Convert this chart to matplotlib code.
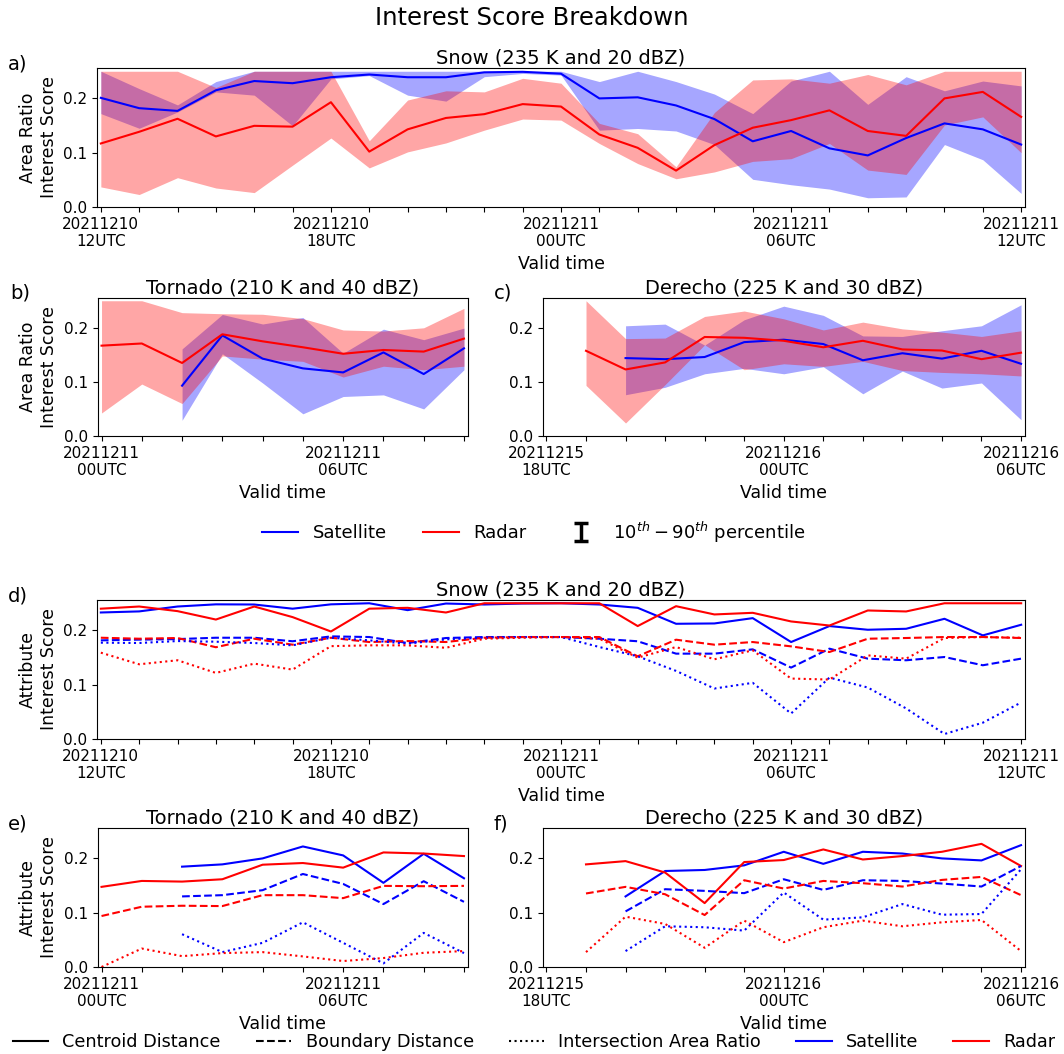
from datetime import timedelta

import numpy as np
import pandas as pd
import matplotlib
matplotlib.use("Agg")
import matplotlib.pyplot as plt
from matplotlib.lines import Line2D

# hourly valid times for each case
times_snow = pd.date_range("2021-12-10 12:00", periods=25, freq="h").to_pydatetime()
times_tornado = pd.date_range("2021-12-11 00:00", periods=10, freq="h").to_pydatetime()
times_derecho = pd.date_range("2021-12-15 18:00", periods=13, freq="h").to_pydatetime()

# first hour with objects (index into the case's times)
sat_start_tornado, rad_start_tornado = 2, 0
sat_start_derecho, rad_start_derecho = 2, 1

# area ratio interest: median and 10th/90th percentiles
sat_snow = [0.201, 0.182, 0.177, 0.215, 0.232, 0.228, 0.239, 0.244, 0.239, 0.239, 0.248, 0.249, 0.2455,
            0.200, 0.202, 0.187, 0.162, 0.121, 0.140, 0.108, 0.095, 0.127, 0.154, 0.143, 0.115]
sat_snow_lo = [0.172, 0.145, 0.175, 0.212, 0.206, 0.1495, 0.236, 0.242, 0.206, 0.195, 0.240, 0.246, 0.243,
               0.1415, 0.1446, 0.140, 0.115, 0.051, 0.041, 0.033, 0.017, 0.0185, 0.115, 0.087, 0.025]
sat_snow_hi = [0.25, 0.218, 0.188, 0.231, 0.25, 0.25, 0.25, 0.25, 0.25, 0.25, 0.25, 0.25, 0.25,
               0.231, 0.25, 0.231, 0.208, 0.172, 0.232, 0.25, 0.189, 0.24, 0.214, 0.232, 0.223]
rad_snow = [0.117, 0.1385, 0.1625, 0.130, 0.1495, 0.148, 0.193, 0.102, 0.143, 0.164, 0.171, 0.1895, 0.185,
            0.1335, 0.109, 0.067, 0.114, 0.146, 0.160, 0.178, 0.140, 0.131, 0.200, 0.212, 0.166]
rad_snow_lo = [0.037, 0.023, 0.054, 0.035, 0.0265, 0.077, 0.127, 0.072, 0.1015, 0.118, 0.1415, 0.162, 0.160,
               0.117, 0.080, 0.052, 0.0646, 0.084, 0.089, 0.117, 0.068, 0.060, 0.151, 0.166, 0.100]
rad_snow_hi = [0.25, 0.25, 0.25, 0.22, 0.25, 0.25, 0.25, 0.122, 0.197, 0.214, 0.212, 0.237, 0.228,
               0.154, 0.135, 0.074, 0.174, 0.234, 0.236, 0.228, 0.244, 0.225, 0.25, 0.25, 0.25]

sat_tornado = [0.093, 0.186, 0.143, 0.125, 0.1175, 0.1545, 0.1145, 0.162]
sat_tornado_lo = [0.029, 0.152, 0.098, 0.041, 0.073, 0.076, 0.050, 0.1225]
sat_tornado_hi = [0.161, 0.2246, 0.207, 0.219, 0.153, 0.1975, 0.178, 0.1994]
rad_tornado = [0.167, 0.171, 0.135, 0.188, 0.175, 0.164, 0.152, 0.159, 0.156, 0.180]
rad_tornado_lo = [0.0425, 0.096, 0.060, 0.148, 0.142, 0.138, 0.109, 0.129, 0.1225, 0.129]
rad_tornado_hi = [0.25, 0.25, 0.228, 0.226, 0.225, 0.217, 0.196, 0.194, 0.200, 0.236]

sat_derecho = [0.144, 0.142, 0.146, 0.1735, 0.178, 0.170, 0.140, 0.153, 0.143, 0.1575, 0.1335]
sat_derecho_lo = [0.0763, 0.090, 0.115, 0.125, 0.115, 0.128, 0.078, 0.120, 0.0886, 0.098, 0.030]
sat_derecho_hi = [0.2037, 0.2068, 0.168, 0.2148, 0.240, 0.223, 0.185, 0.184, 0.1945, 0.2037, 0.2425]
rad_derecho = [0.1575, 0.123, 0.136, 0.183, 0.1815, 0.176, 0.164, 0.176, 0.160, 0.158, 0.142, 0.154]
rad_derecho_lo = [0.0935, 0.024, 0.095, 0.1686, 0.1225, 0.1335, 0.1286, 0.138, 0.121, 0.1175, 0.115, 0.111]
rad_derecho_hi = [0.25, 0.18, 0.181, 0.221, 0.231, 0.2166, 0.196, 0.2105, 0.198, 0.192, 0.184, 0.1945]

# attribute interest: centroid distance, boundary distance, intersection area ratio
sat_snow_cen = [0.233, 0.235, 0.244, 0.248, 0.2477, 0.240, 0.248, 0.25, 0.2373, 0.2495, 0.2477, 0.2495, 0.25,
                0.2477, 0.2416, 0.2122, 0.2128, 0.2226, 0.1786, 0.208, 0.2012, 0.203, 0.2214, 0.1908, 0.2104]
sat_snow_bnd = [0.1817, 0.183, 0.184, 0.1865, 0.1865, 0.180, 0.189, 0.1878, 0.1768, 0.186, 0.1878, 0.1878, 0.1878,
                0.1847, 0.180, 0.1572, 0.1572, 0.1651, 0.1315, 0.1664, 0.148, 0.145, 0.151, 0.1358, 0.148]
sat_snow_int = [0.1774, 0.1768, 0.1804, 0.1792, 0.1768, 0.1725, 0.1865, 0.1817, 0.1755, 0.1835, 0.1865, 0.1878, 0.1878,
                0.1694, 0.1523, 0.1254, 0.093, 0.1034, 0.047, 0.1131, 0.0948, 0.0563, 0.0092, 0.030, 0.0673]
rad_snow_cen = [0.240, 0.244, 0.2355, 0.220, 0.244, 0.2245, 0.198, 0.240, 0.2416, 0.233, 0.25, 0.25, 0.25,
                0.25, 0.208, 0.2446, 0.2294, 0.2324, 0.2165, 0.209, 0.2367, 0.2349, 0.25, 0.25, 0.25]
rad_snow_bnd = [0.1865, 0.1847, 0.186, 0.169, 0.1847, 0.1737, 0.1865, 0.1786, 0.1804, 0.1786, 0.1865, 0.1878, 0.1878,
                0.1878, 0.1523, 0.1829, 0.1737, 0.1786, 0.1706, 0.1602, 0.1847, 0.186, 0.1878, 0.1878, 0.186]
rad_snow_int = [0.159, 0.1376, 0.145, 0.1217, 0.1388, 0.1278, 0.171, 0.1725, 0.1725, 0.168, 0.1847, 0.1865, 0.1878,
                0.1847, 0.1498, 0.1694, 0.1468, 0.1633, 0.1113, 0.1095, 0.154, 0.148, 0.186, 0.1878, 0.1865]

sat_tornado_cen = [0.1848, 0.189, 0.200, 0.222, 0.2055, 0.155, 0.2085, 0.1634]
sat_tornado_bnd = [0.130, 0.1323, 0.1415, 0.1713, 0.153, 0.1159, 0.158, 0.120]
sat_tornado_int = [0.0604, 0.0274, 0.0445, 0.0823, 0.0445, 0.0067, 0.0628, 0.0256]
rad_tornado_cen = [0.1476, 0.1585, 0.1573, 0.1616, 0.1884, 0.1915, 0.183, 0.211, 0.209, 0.2043]
rad_tornado_bnd = [0.0939, 0.111, 0.1128, 0.1122, 0.1323, 0.1323, 0.1268, 0.1494, 0.1488, 0.1494]
rad_tornado_int = [0.0, 0.034, 0.020, 0.0256, 0.0274, 0.0195, 0.011, 0.0165, 0.0262, 0.0293]

sat_derecho_cen = [0.130, 0.1768, 0.1787, 0.1872, 0.2122, 0.190, 0.2122, 0.209, 0.200, 0.1963, 0.2244]
sat_derecho_bnd = [0.1024, 0.1433, 0.1402, 0.136, 0.1616, 0.142, 0.1598, 0.1585, 0.1537, 0.1482, 0.186]
sat_derecho_int = [0.0293, 0.075, 0.0732, 0.067, 0.1372, 0.0872, 0.0915, 0.1159, 0.0963, 0.0976, 0.18]
rad_derecho_cen = [0.189, 0.195, 0.174, 0.1177, 0.1933, 0.197, 0.2165, 0.198, 0.2043, 0.2122, 0.2268, 0.186]
rad_derecho_bnd = [0.1354, 0.1476, 0.134, 0.0957, 0.1598, 0.1445, 0.1585, 0.1543, 0.1482, 0.1604, 0.1659, 0.1323]
rad_derecho_int = [0.0274, 0.0927, 0.0793, 0.0354, 0.0854, 0.0457, 0.0732, 0.0854, 0.075, 0.0823, 0.0866, 0.0293]

SAT, RAD = "blue", "red"
W, H = 1064, 1054

plt.rcParams["font.family"] = ["DejaVu Sans"]
plt.rcParams["xtick.labelsize"] = 11
plt.rcParams["ytick.labelsize"] = 11
plt.rcParams["axes.labelsize"] = 12.5
plt.rcParams["axes.titlesize"] = 14


def px_axes(fig, left, top, right, bottom):
    return fig.add_axes([left / W, 1 - bottom / H, (right - left) / W, (bottom - top) / H])


def format_axes(ax, times, title, letter, letter_x, ylabel=None):
    ax.set_xticks(times)
    ax.set_xticklabels([t.strftime("%Y%m%d\n%HUTC") if t.hour % 6 == 0 else "" for t in times])
    pad = timedelta(minutes=6)
    ax.set_xlim(times[0] - pad, times[-1] + pad)
    ax.set_ylim(0, 0.256)
    ax.set_yticks([0.0, 0.1, 0.2])
    ax.set_xlabel("Valid time")
    if ylabel:
        ax.set_ylabel(ylabel)
    ax.set_title(title, pad=2)
    top = (1 - ax.get_position().y1) * H
    fig.text(letter_x / W, 1 - (top - 4) / H, letter, fontsize=14, va="center")


def band_panel(ax, times, sat_start, sat, sat_lo, sat_hi, rad_start, rad, rad_lo, rad_hi):
    st, rt = times[sat_start:], times[rad_start:]
    ax.fill_between(st, sat_lo, sat_hi, color=SAT, alpha=0.35, lw=0)
    ax.fill_between(rt, rad_lo, rad_hi, color=RAD, alpha=0.35, lw=0)
    ax.plot(st, sat, color=SAT, lw=1.5)
    ax.plot(rt, rad, color=RAD, lw=1.5)


def attr_panel(ax, times, sat_start, sat_series, rad_start, rad_series):
    st, rt = times[sat_start:], times[rad_start:]
    for ls, s, r in zip(["-", "--", ":"], sat_series, rad_series):
        ax.plot(st, s, color=SAT, ls=ls, lw=1.5)
        ax.plot(rt, r, color=RAD, ls=ls, lw=1.5)


fig = plt.figure(figsize=(W / 100, H / 100), dpi=100)
fig.suptitle("Interest Score Breakdown", fontsize=17.5, y=1 - 18 / H, va="center")

ax_a = px_axes(fig, 97, 68, 1025, 207)
ax_b = px_axes(fig, 97.5, 297.5, 468, 436)
ax_c = px_axes(fig, 542.5, 297.5, 1025, 436)
ax_d = px_axes(fig, 97, 600, 1025, 739)
ax_e = px_axes(fig, 97.5, 828, 468, 967)
ax_f = px_axes(fig, 542.5, 828, 1025, 967)

band_panel(ax_a, times_snow, 0, sat_snow, sat_snow_lo, sat_snow_hi, 0, rad_snow, rad_snow_lo, rad_snow_hi)
band_panel(ax_b, times_tornado, sat_start_tornado, sat_tornado, sat_tornado_lo, sat_tornado_hi,
           rad_start_tornado, rad_tornado, rad_tornado_lo, rad_tornado_hi)
band_panel(ax_c, times_derecho, sat_start_derecho, sat_derecho, sat_derecho_lo, sat_derecho_hi,
           rad_start_derecho, rad_derecho, rad_derecho_lo, rad_derecho_hi)

attr_panel(ax_d, times_snow, 0, [sat_snow_cen, sat_snow_bnd, sat_snow_int],
           0, [rad_snow_cen, rad_snow_bnd, rad_snow_int])
attr_panel(ax_e, times_tornado, sat_start_tornado, [sat_tornado_cen, sat_tornado_bnd, sat_tornado_int],
           rad_start_tornado, [rad_tornado_cen, rad_tornado_bnd, rad_tornado_int])
attr_panel(ax_f, times_derecho, sat_start_derecho, [sat_derecho_cen, sat_derecho_bnd, sat_derecho_int],
           rad_start_derecho, [rad_derecho_cen, rad_derecho_bnd, rad_derecho_int])

area_label = "Area Ratio\nInterest Score"
attr_label = "Attribute\nInterest Score"
format_axes(ax_a, times_snow, "Snow (235 K and 20 dBZ)", "a)", 8, area_label)
format_axes(ax_b, times_tornado, "Tornado (210 K and 40 dBZ)", "b)", 10, area_label)
format_axes(ax_c, times_derecho, "Derecho (225 K and 30 dBZ)", "c)", 494)
format_axes(ax_d, times_snow, "Snow (235 K and 20 dBZ)", "d)", 8, attr_label)
format_axes(ax_e, times_tornado, "Tornado (210 K and 40 dBZ)", "e)", 8, attr_label)
format_axes(ax_f, times_derecho, "Derecho (225 K and 30 dBZ)", "f)", 494)

# legend for the area ratio panels
pct = ax_a.errorbar([np.nan], [np.nan], yerr=[[0.0], [0.0]], fmt="none", ecolor="k",
                    elinewidth=2.5, capsize=5, capthick=2.5)
top_handles = [Line2D([], [], color=SAT, lw=1.5), Line2D([], [], color=RAD, lw=1.5), pct]
fig.legend(top_handles, ["Satellite", "Radar", r"$10^{th} - 90^{th}$ percentile"],
           loc="center", bbox_to_anchor=(534 / W, 1 - 532 / H), ncol=3, frameon=False, fontsize=13)

# legend for the attribute panels
bottom_handles = [Line2D([], [], color="k", ls="-", lw=1.5),
                  Line2D([], [], color="k", ls="--", lw=1.5),
                  Line2D([], [], color="k", ls=":", lw=1.5),
                  Line2D([], [], color=SAT, lw=1.5),
                  Line2D([], [], color=RAD, lw=1.5)]
fig.legend(bottom_handles, ["Centroid Distance", "Boundary Distance", "Intersection Area Ratio",
                            "Satellite", "Radar"],
           loc="center", bbox_to_anchor=(534 / W, 1 - 1042 / H), ncol=5, frameon=False,
           fontsize=12.7)

fig.savefig("out.png", dpi=100)
